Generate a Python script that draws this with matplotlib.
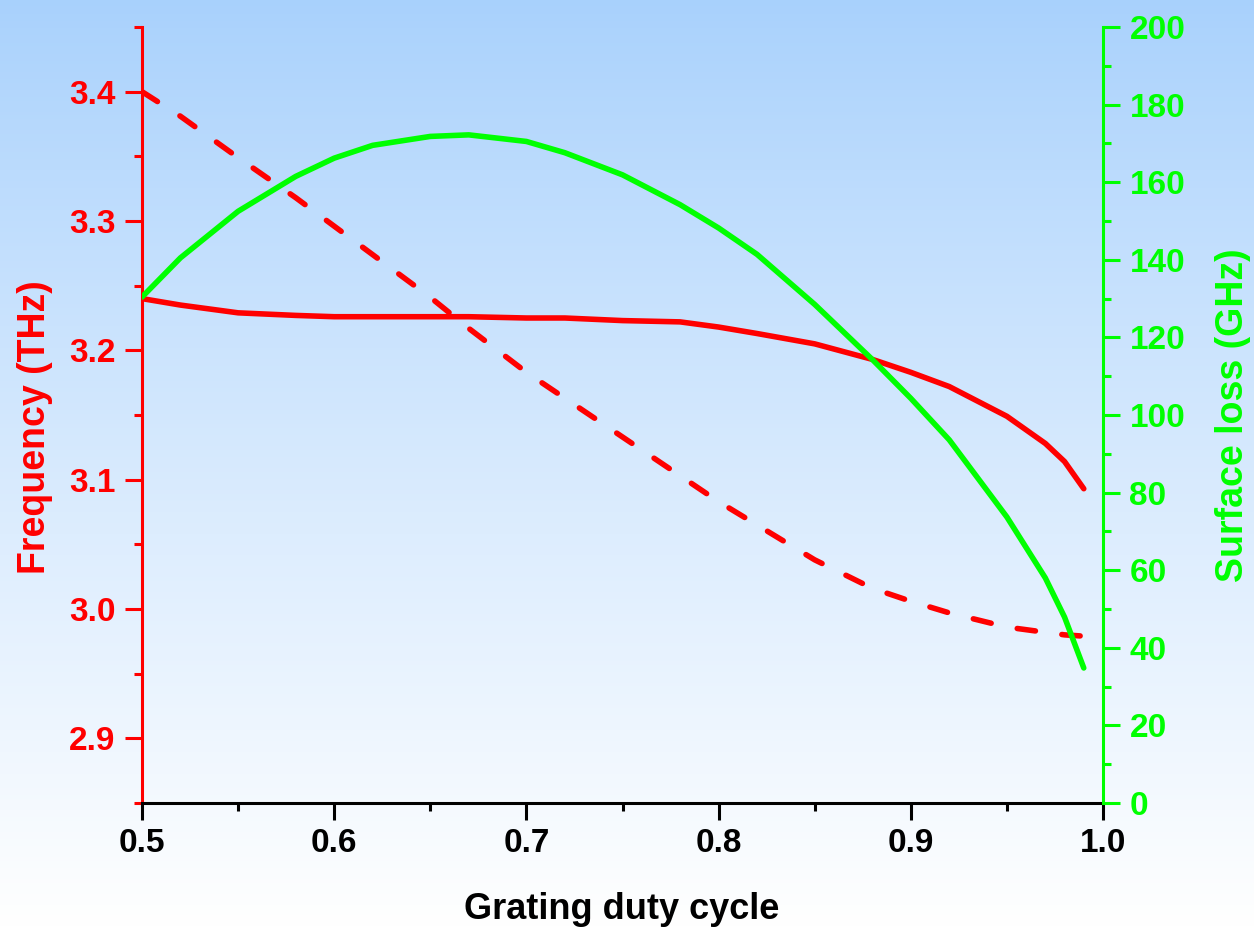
import matplotlib
matplotlib.use("Agg")
import matplotlib.pyplot as plt
from matplotlib.ticker import MultipleLocator
import numpy as np

plt.rcParams['font.family'] = ['Liberation Sans', 'DejaVu Sans']
plt.rcParams['font.weight'] = 'bold'

# grating duty cycle
duty = [0.50, 0.52, 0.55, 0.58, 0.60, 0.62, 0.65, 0.67, 0.70, 0.72, 0.75,
        0.78, 0.80, 0.82, 0.85, 0.88, 0.90, 0.92, 0.95, 0.97, 0.98, 0.99]

# frequency (THz), solid and dashed branches
freq_solid = [3.240, 3.235, 3.229, 3.227, 3.226, 3.226, 3.226, 3.226, 3.225, 3.225, 3.223,
              3.222, 3.218, 3.213, 3.205, 3.193, 3.183, 3.172, 3.149, 3.128, 3.114, 3.093]
freq_dashed = [3.400, 3.381, 3.349, 3.318, 3.296, 3.274, 3.241, 3.217, 3.183, 3.163, 3.133,
               3.103, 3.083, 3.065, 3.038, 3.016, 3.006, 2.997, 2.986, 2.982, 2.980, 2.979]

# surface loss (GHz)
loss = [130.4, 140.5, 152.5, 161.5, 166.2, 169.5, 171.8, 172.2, 170.5, 167.6, 161.9,
        154.2, 148.2, 141.4, 128.5, 114.3, 104.3, 93.6, 73.7, 58.0, 47.9, 34.8]

RED = '#ff0000'
GREEN = '#00ff00'

fig = plt.figure(figsize=(12.54, 9.3), dpi=100)

# light blue to white background over the whole figure
bg = fig.add_axes([0, 0, 1, 1], zorder=-10)
t = np.linspace(0, 1, 256)[:, None]
top = np.array([0.66, 0.82, 0.99])
bottom = np.array([1.0, 1.0, 1.0])
grad = top[None, None, :] * (1 - t[..., None] ** 0.9) + bottom[None, None, :] * (t[..., None] ** 0.9)
grad = np.repeat(grad, 2, axis=1)
bg.imshow(grad, aspect='auto', extent=[0, 1, 0, 1])
bg.axis('off')

ax = fig.add_axes([142 / 1254, 1 - 803 / 930, 961 / 1254, 776 / 930])
ax.patch.set_alpha(0)
ax2 = ax.twinx()
ax2.patch.set_alpha(0)

LW = 4.0
ax.plot(duty, freq_solid, color=RED, lw=LW, solid_capstyle='round', zorder=3)
ax.plot(duty, freq_dashed, color=RED, lw=LW, dashes=(3.3, 4.8),
        dash_capstyle='round', zorder=3)
ax2.plot(duty, loss, color=GREEN, lw=LW, solid_capstyle='round', zorder=3)

ax.set_xlim(0.5, 1.0)
ax.set_ylim(2.85, 3.45)
ax2.set_ylim(0, 200)

ax.xaxis.set_major_locator(MultipleLocator(0.1))
ax.xaxis.set_minor_locator(MultipleLocator(0.05))
ax.yaxis.set_major_locator(MultipleLocator(0.1))
ax.yaxis.set_minor_locator(MultipleLocator(0.05))
ax2.yaxis.set_major_locator(MultipleLocator(20))
ax2.yaxis.set_minor_locator(MultipleLocator(10))
ax.xaxis.set_major_formatter(plt.FuncFormatter(lambda v, p: f"{v:.1f}"))
ax.yaxis.set_major_formatter(plt.FuncFormatter(lambda v, p: f"{v:.1f}"))

for a in (ax, ax2):
    a.spines['top'].set_visible(False)
ax.spines['right'].set_visible(False)
ax2.spines['left'].set_visible(False)
ax2.spines['bottom'].set_visible(False)
ax.spines['left'].set_color(RED)
ax.spines['left'].set_linewidth(2.2)
ax.spines['bottom'].set_color('black')
ax.spines['bottom'].set_linewidth(2.2)
ax2.spines['right'].set_color(GREEN)
ax2.spines['right'].set_linewidth(2.2)

ax.tick_params(axis='x', which='major', direction='out', length=12, width=2.2,
               color='black', labelsize=24, pad=6, top=False)
ax.tick_params(axis='x', which='minor', direction='out', length=6, width=2.2,
               color='black', top=False)
ax.tick_params(axis='y', which='major', direction='out', length=12, width=2.2,
               color=RED, labelcolor=RED, labelsize=24, pad=7, right=False)
ax.tick_params(axis='y', which='minor', direction='out', length=6, width=2.2,
               color=RED, right=False)
ax2.tick_params(axis='y', which='major', direction='out', length=12, width=2.2,
                color=GREEN, labelcolor=GREEN, labelsize=24, pad=7)
ax2.tick_params(axis='y', which='minor', direction='out', length=6, width=2.2,
                color=GREEN)
for lbl in ax.get_xticklabels() + ax.get_yticklabels() + ax2.get_yticklabels():
    lbl.set_fontweight('bold')

fig.text(622 / 1254, 1 - 909 / 930, 'Grating duty cycle', ha='center', va='center',
         fontsize=26, fontweight='bold', color='black')
fig.text(35 / 1254, 1 - 427 / 930, 'Frequency (THz)', ha='center', va='center',
         rotation=90, fontsize=27, fontweight='bold', color=RED)
fig.text(1233 / 1254, 1 - 415 / 930, 'Surface loss (GHz)', ha='center', va='center',
         rotation=90, fontsize=27, fontweight='bold', color=GREEN)

fig.savefig('out.png', dpi=100)
